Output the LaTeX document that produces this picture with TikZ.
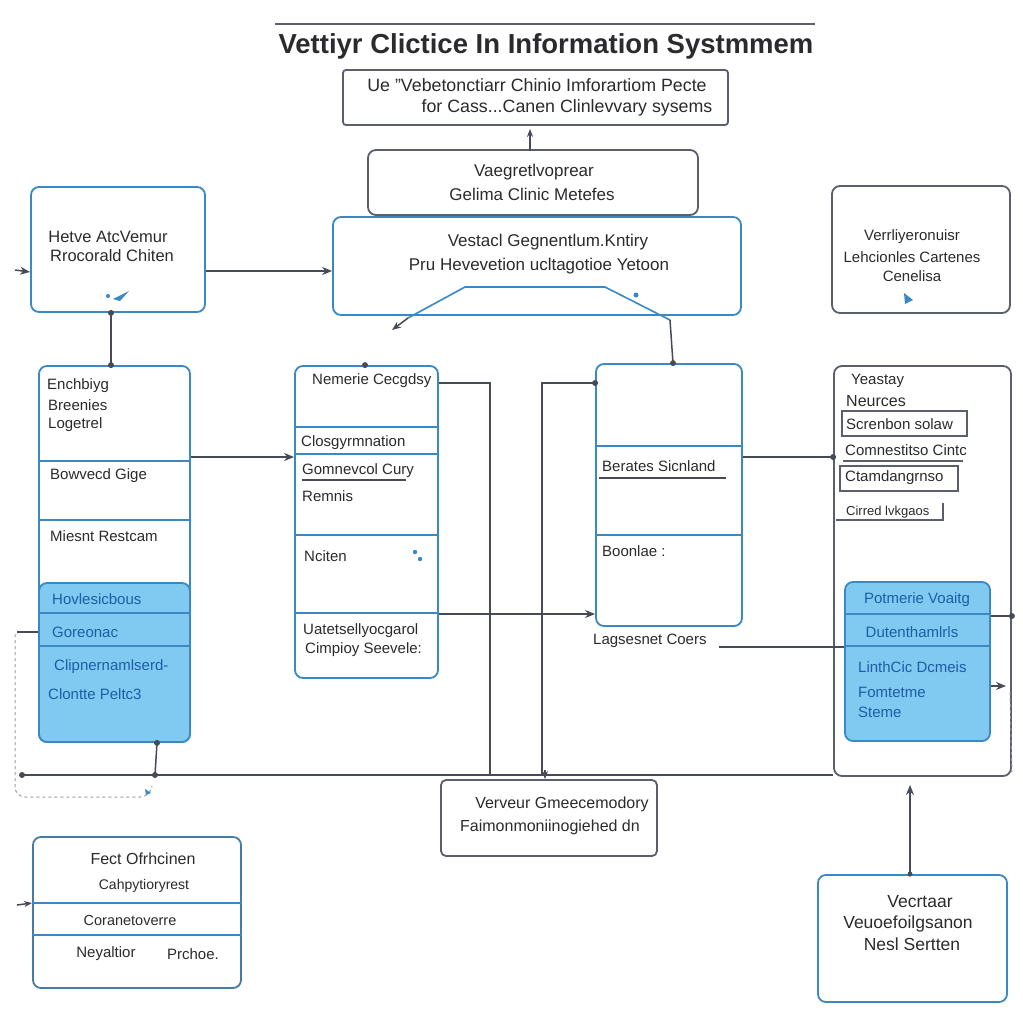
\documentclass[tikz,border=0pt]{standalone}
\usepackage{fontspec}
\setmainfont{Liberation Sans}
\usetikzlibrary{arrows.meta}
\definecolor{ink}{HTML}{2B2B2E}
\definecolor{edgeblue}{HTML}{3A88C4}
\definecolor{edgegray}{HTML}{5B5F6B}
\definecolor{panelfill}{HTML}{80C9F0}
\definecolor{paneltext}{HTML}{1C5EA6}
\definecolor{wire}{HTML}{474B57}
\tikzset{
  bluebox/.style={draw=edgeblue, line width=1.8pt, rounded corners=8pt, fill=white, inner sep=0pt},
  graybox/.style={draw=edgegray, line width=1.8pt, rounded corners=8pt, fill=white, inner sep=0pt},
  panel/.style={draw=edgeblue, line width=1.8pt, rounded corners=8pt, fill=panelfill, inner sep=0pt},
  divider/.style={draw=edgeblue, line width=1.6pt},
  lbl/.style={text=ink, font=\fontsize{15}{18}\selectfont, inner sep=0pt},
  lblL/.style={lbl, anchor=west},
  big/.style={font=\fontsize{17}{20}\selectfont},
  plbl/.style={text=paneltext, font=\fontsize{15}{18}\selectfont, inner sep=0pt},
  plblL/.style={plbl, anchor=west},
  wireline/.style={draw=wire, line width=1.5pt},
  arr/.style={wireline, -{Stealth[length=10pt,width=8pt]}},
  smallarr/.style={wireline, -{Stealth[length=8pt,width=6pt]}},
  jdot/.style={circle, fill=wire, inner sep=0pt, minimum size=6pt},
}
\begin{document}
\begin{tikzpicture}[x=1pt,y=-1pt]
\fill[white] (0,0) rectangle (1023,1023);
\useasboundingbox (0,0) rectangle (1023,1023);

% heading
\draw[edgegray, line width=1.2pt] (275,24) -- (815,24);
\node[text=ink, font=\fontsize{27.5}{32}\selectfont\bfseries, inner sep=0pt] (title) at (546,46) {Vettiyr Clictice In Information Systmmem};

% subtitle box
\node[graybox, rounded corners=3pt, minimum width=385pt, minimum height=55pt] (sub) at (535.5,97.5) {};
\node[lbl, font=\fontsize{17.8}{21}\selectfont] at (537,85) {Ue "Vebetonctiarr Chinio Imforartiom Pecte};
\node[lbl, font=\fontsize{17.8}{21}\selectfont] at (567,108) {for Cass...Canen Clinlevvary sysems};

% central stacked boxes
\node[graybox, minimum width=330pt, minimum height=65pt] (m1) at (533,182.5) {};
\node[lbl, big] at (534,172) {Vaegretlvoprear};
\node[lbl, big] at (532,194) {Gelima Clinic Metefes};
\node[bluebox, minimum width=408pt, minimum height=98pt] (m2) at (537,266) {};
\node[lbl, big] at (548,242) {Vestacl Gegnentlum.Kntiry};
\node[lbl, big] at (539,266) {Pru Hevevetion ucltagotioe Yetoon};
\coordinate (tl) at (392,330);
\coordinate (tr) at (670,320);
\draw[edgeblue, line width=1.6pt] (408,318) -- (465,287) -- (605,287) -- (tr);
\draw[wireline, {Stealth[length=9pt,width=7pt]}-] (tl) -- (408,318);
\fill[edgeblue] (636,295) circle (2.5pt);

% upper left box
\node[bluebox, minimum width=174pt, minimum height=125pt] (a) at (118,249.5) {};
\node[lbl, font=\fontsize{16.5}{19}\selectfont] at (108,237) {Hetve AtcVemur};
\node[lbl, font=\fontsize{16.5}{19}\selectfont] at (112,256) {Rrocorald Chiten};
\fill[edgeblue] (113,299) -- (129,291) -- (120,301) -- cycle;
\fill[edgeblue] (108,296) circle (2pt);

% upper right box
\node[graybox, minimum width=178pt, minimum height=127pt] (r) at (921,249.5) {};
\node[lbl] at (912,237) {Verrliyeronuisr};
\node[lbl] at (912,257) {Lehcionles Cartenes};
\node[lbl] at (912,276) {Cenelisa};
\fill[edgeblue] (904,293) -- (913,300) -- (905,304) -- cycle;

% left column
\node[bluebox, minimum width=151pt, minimum height=376pt] (c) at (114.5,554) {};
\draw[divider] (c.west |- 0,461) -- (c.east |- 0,461);
\draw[divider] (c.west |- 0,520) -- (c.east |- 0,520);
\node[panel, minimum width=151pt, minimum height=159pt] (cp) at (114.5,662.5) {};
\draw[divider] (cp.west |- 0,613) -- (cp.east |- 0,613);
\draw[divider] (cp.west |- 0,646) -- (cp.east |- 0,646);
\node[lblL] at (47,386) {Enchbiyg};
\node[lblL] at (48,405) {Breenies};
\node[lblL] at (48,425) {Logetrel};
\node[lblL] at (50,476) {Bowvecd Gige};
\node[lblL] at (50,536) {Miesnt Restcam};
\node[plblL] at (52,599) {Hovlesicbous};
\node[plblL] at (52,632) {Goreonac};
\node[plblL] at (54,667) {Clipnernamlserd-};
\node[plblL] at (48,694) {Clontte Peltc3};

% second column
\node[bluebox, minimum width=143pt, minimum height=312pt] (d) at (366.5,522) {};
\draw[divider] (d.west |- 0,427) -- (d.east |- 0,427);
\draw[divider] (d.west |- 0,454) -- (d.east |- 0,454);
\draw[divider] (d.west |- 0,535) -- (d.east |- 0,535);
\draw[divider] (d.west |- 0,613) -- (d.east |- 0,613);
\node[lblL] at (312,381) {Nemerie Cecgdsy};
\node[lblL] at (301,443) {Closgyrmnation};
\node[lblL] at (302,471) {Gomnevcol Cury};
\draw[wire, line width=1.2pt] (302,480) -- (406,480);
\node[lblL] at (302,496) {Remnis};
\node[lblL] at (304,556) {Nciten};
\fill[edgeblue] (415,552) circle (2.2pt) (420,559) circle (2.2pt);
\node[lblL] at (303,631) {Uatetsellyocgarol};
\node[lblL] at (305,650) {Cimpioy Seevele:};

% third column
\node[bluebox, minimum width=146pt, minimum height=262pt] (e) at (669,495) {};
\draw[divider] (e.west |- 0,446) -- (e.east |- 0,446);
\draw[divider] (e.west |- 0,535) -- (e.east |- 0,535);
\node[lblL] at (602,466) {Berates Sicnland};
\draw[wire, line width=1.2pt] (599,478) -- (726,478);
\node[lblL] at (602,551) {Boonlae :};
\node[lblL] at (593,641) (elab) {Lagsesnet Coers};

% right column
\node[graybox, minimum width=177pt, minimum height=410pt] (f) at (922.5,571) {};
\node[lblL] at (851,381) {Yeastay};
\node[lblL, font=\fontsize{16}{19}\selectfont] at (846,401) {Neurces};
\draw[edgegray, line width=1.2pt] (842,411) rectangle (967,436);
\node[lblL] at (846,424) {Screnbon solaw};
\node[lblL] at (845,450) {Comnestitso Cintc};
\draw[edgegray, line width=1.2pt] (843,461) -- (963,461);
\draw[edgegray, line width=1.2pt] (840,466) rectangle (958,491);
\node[lblL] at (845,478) {Ctamdangrnso};
\node[lblL, font=\fontsize{13}{16}\selectfont] at (846,512) {Cirred lvkgaos};
\draw[edgegray, line width=1.2pt] (836,520) -- (943,520) -- (943,503);
\node[panel, minimum width=145pt, minimum height=159pt] (fp) at (917.5,661.5) {};
\draw[divider] (fp.west |- 0,614) -- (fp.east |- 0,614);
\draw[divider] (fp.west |- 0,646) -- (fp.east |- 0,646);
\node[plbl] at (917,600) {Potmerie Voaitg};
\node[plbl] at (912,632) {Dutenthamlrls};
\node[plblL] at (858,667) {LinthCic Dcmeis};
\node[plblL] at (858,692) {Fomtetme};
\node[plblL] at (858,712) {Steme};

% lower boxes
\node[graybox, rounded corners=5pt, minimum width=216pt, minimum height=76pt] (g) at (549,818) {};
\node[lbl, font=\fontsize{16}{19}\selectfont] at (562,804) {Verveur Gmeecemodory};
\node[lbl, font=\fontsize{16}{19}\selectfont] at (550,827) {Faimonmoniinogiehed dn};

\node[bluebox, draw=edgeblue!70!edgegray, minimum width=208pt, minimum height=151pt] (h) at (137,912.5) {};
\draw[divider] (h.west |- 0,903) -- (h.east |- 0,903);
\draw[divider] (h.west |- 0,935) -- (h.east |- 0,935);
\node[lbl, font=\fontsize{16}{19}\selectfont] at (143,859) {Fect Ofrhcinen};
\node[lbl, font=\fontsize{14}{17}\selectfont] at (144,886) {Cahpytioryrest};
\node[lbl, font=\fontsize{14.5}{17}\selectfont] at (130,920) {Coranetoverre};
\node[lbl] at (106,954) {Neyaltior};
\node[lbl] at (193,954) {Prchoe.};

\node[bluebox, minimum width=189pt, minimum height=127pt] (i) at (912.5,938.5) {};
\node[lbl, font=\fontsize{17.5}{20}\selectfont] at (920,902) {Vecrtaar};
\node[lbl, font=\fontsize{17.5}{20}\selectfont] at (908,924) {Veuoefoilgsanon};
\node[lbl, font=\fontsize{17.5}{20}\selectfont] at (912,944) {Nesl Sertten};

% connectors
\draw[smallarr] (sub.south -| 530,0) ++(0,25) -- ++(0,-22);
\coordinate (ain) at (15,270);
\draw[arr] (ain) -- (a.west |- 0,272);
\draw[arr] (a.east |- 0,271) -- (m2.west |- 0,271);
\draw[wireline] (a.south -| 111,0) -- (c.north -| 111,0);
\node[jdot] at (a.south -| 111,0) {};
\node[jdot] at (c.north -| 111,0) {};
\draw[wireline] (e.north -| 673,0) -- (tr);
\node[jdot] at (e.north -| 673,0) {};
\node[jdot] at (d.north -| 365,0) {};
\draw[arr] (c.east |- 0,457) -- (d.west |- 0,457);
\coordinate (bus1) at (490,775);
\coordinate (bus2) at (542,775);
\draw[wireline] (d.east |- 0,383) -- (490,383) -- (bus1);
\draw[wireline] (e.west |- 0,383) -- (542,383) -- (bus2);
\node[jdot] at (e.west |- 0,383) {};
\draw[arr] (d.east |- 0,614) -- (e.west |- 0,614);
\draw[wireline] (e.east |- 0,457) -- (f.west |- 0,457);
\node[jdot] at (f.west |- 0,457) {};
\draw[wireline] (elab.east |- 0,647) ++(12,0) -- (fp.west |- 0,647);
\draw[wireline] (fp.east |- 0,616) -- (f.east |- 0,616);
\node[jdot] at (f.east |- 0,616) {};
\draw[arr] (fp.east |- 0,686) -- (1006,686);
\draw[wire!60, line width=1pt, dashed] (1010,692) -- (f.east |- 0,772);

% bottom bus
\coordinate (busl) at (22,775);
\draw[wireline] (busl) -- (f.west |- 0,775);
\node[jdot] at (busl) {};
\node[jdot] at (155,775) {};
\draw[wireline] (c.south -| 157,0) -- (155,775);
\node[jdot] at (c.south -| 157,0) {};
\draw[wireline] (c.west |- 0,632) -- (17,632);
\draw[wire!55, line width=1pt, dashed, rounded corners=10pt] (15,634) -- (15,797) -- (150,797) -- (152,786);
\fill[edgeblue] (145,789) -- (151,793) -- (146,795) -- cycle;
\draw[smallarr] (545,770) -- (g.north -| 545,0);

\coordinate (hin) at (17,905);
\draw[smallarr] (hin) -- (h.west |- 0,903);
\draw[arr] (i.north -| 910,0) -- (910,785);
\node[jdot, minimum size=5pt] at (i.north -| 910,0) {};
\end{tikzpicture}
\end{document}
